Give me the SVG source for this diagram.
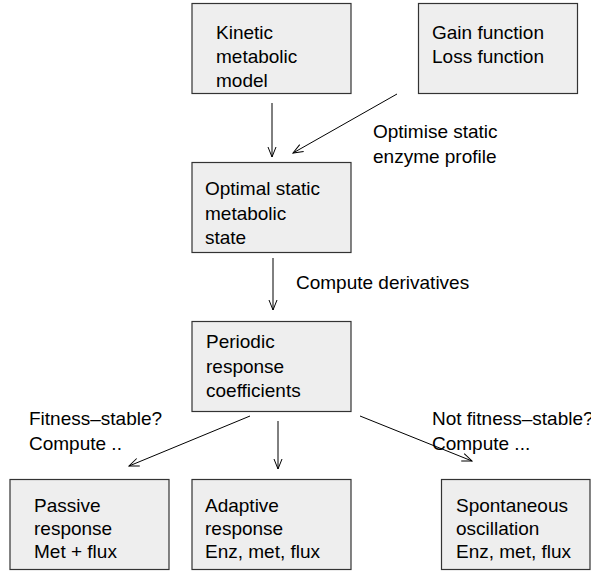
<svg xmlns="http://www.w3.org/2000/svg" width="591" height="571" viewBox="0 0 591 571">
<defs>
<marker id="ah" markerWidth="12" markerHeight="10" refX="11" refY="5" orient="auto" markerUnits="userSpaceOnUse">
<path d="M1,1 L11,5 L1,9" fill="none" stroke="#000" stroke-width="1"/>
</marker>
<style>
rect.box{fill:#eeeeee;stroke:#333;stroke-width:1.2}
text{font-family:"Liberation Sans",Arial,sans-serif;font-size:19px;fill:#000}
.conn line{stroke:#000;stroke-width:1;marker-end:url(#ah)}
</style>
</defs>
<rect width="591" height="571" fill="#fff"/>
<g id="kinetic">
<rect class="box" x="192" y="3.5" width="159" height="90"/>
<text x="216" y="39">Kinetic</text>
<text x="216" y="63">metabolic</text>
<text x="216" y="87">model</text>
</g>
<g id="gain">
<rect class="box" x="418.5" y="3.5" width="159" height="90"/>
<text x="432" y="39">Gain function</text>
<text x="432" y="63">Loss function</text>
</g>
<g id="optimal">
<rect class="box" x="192" y="162.5" width="159" height="90"/>
<text x="205" y="195">Optimal static</text>
<text x="205" y="219.5">metabolic</text>
<text x="205" y="244">state</text>
</g>
<g id="periodic">
<rect class="box" x="192" y="321.5" width="159" height="90"/>
<text x="206" y="348">Periodic</text>
<text x="206" y="372.5">response</text>
<text x="206" y="397">coefficients</text>
</g>
<g id="passive">
<rect class="box" x="10" y="479.5" width="159" height="90"/>
<text x="34" y="512">Passive</text>
<text x="34" y="535">response</text>
<text x="34" y="558">Met + flux</text>
</g>
<g id="adaptive">
<rect class="box" x="192" y="479.5" width="159" height="90"/>
<text x="205" y="512">Adaptive</text>
<text x="205" y="535">response</text>
<text x="205" y="558">Enz, met, flux</text>
</g>
<g id="spontaneous">
<rect class="box" x="441.5" y="479.5" width="148.5" height="90"/>
<text x="456" y="512">Spontaneous</text>
<text x="456" y="535">oscillation</text>
<text x="456" y="558">Enz, met, flux</text>
</g>
<g id="connectors" class="conn">
<line x1="272" y1="103" x2="272" y2="157"/>
<line x1="397" y1="94" x2="293" y2="153"/>
<line x1="273" y1="258" x2="273" y2="310"/>
<line x1="250" y1="416" x2="129" y2="466"/>
<line x1="278" y1="421" x2="278" y2="469"/>
<line x1="360" y1="416" x2="472" y2="461"/>
</g>
<g id="labels">
<text x="373" y="138">Optimise static</text>
<text x="373" y="162.5">enzyme profile</text>
<text x="296" y="289">Compute derivatives</text>
<text x="29" y="425">Fitness–stable?</text>
<text x="29" y="450">Compute ..</text>
<text x="432" y="425">Not fitness–stable?</text>
<text x="432" y="450">Compute ...</text>
</g>
</svg>
